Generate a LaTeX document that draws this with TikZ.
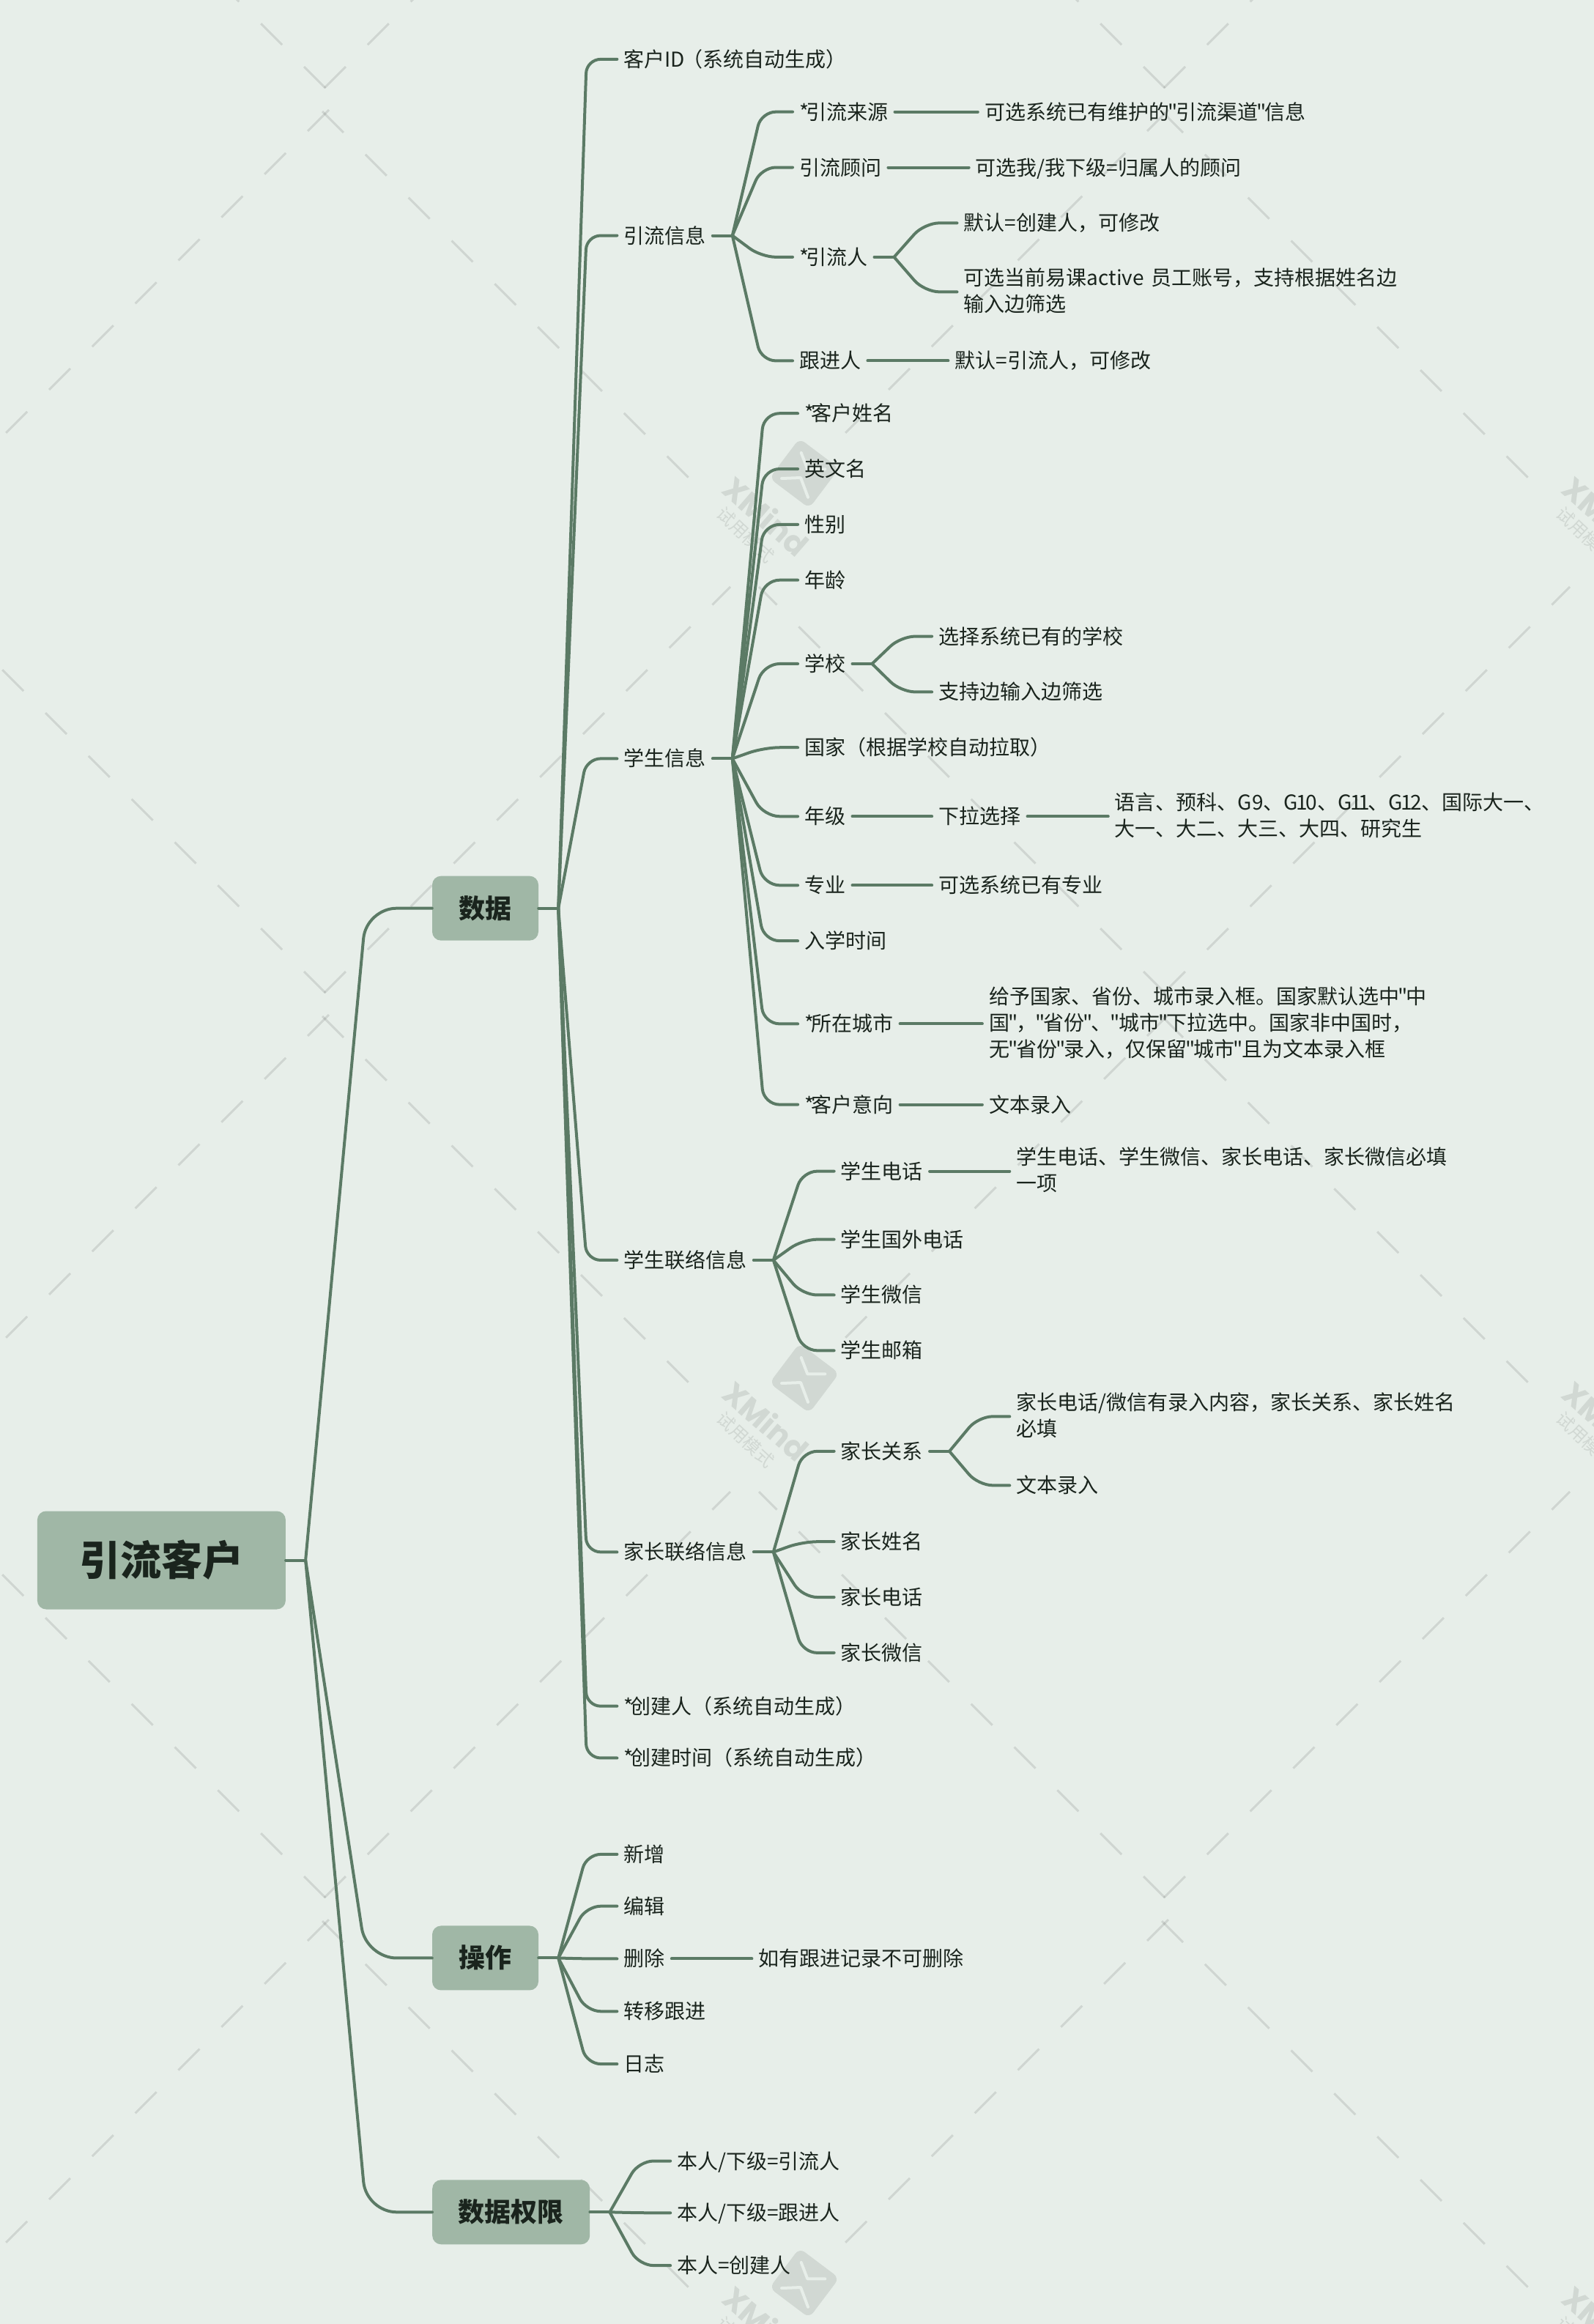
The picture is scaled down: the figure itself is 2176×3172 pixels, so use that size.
\documentclass[tikz,border=0pt]{standalone}
\usepackage{fontspec}
\newfontfamily\cjkmain{Noto Sans CJK SC}
\newfontfamily\wmfont{Poppins}
\usetikzlibrary{calc}
\definecolor{bgc}{HTML}{E7EEE9}
\definecolor{linkc}{HTML}{5B7A65}
\definecolor{boxc}{HTML}{A0B7A6}
\definecolor{textc}{HTML}{1A241D}
\definecolor{wmc}{HTML}{D1D8D3}
\newcommand{\mystrut}{\rule[-.21em]{0pt}{1.17em}}
\newcommand{\oo}{\kern-2.4pt 1\kern-2.4pt }
\newcommand{\qq}{\kern-2pt"\kern-2pt }
\newcommand{\as}{*\kern-4pt }
\tikzset{
  link/.style={draw=linkc,line width=4pt,line cap=round,line join=round},
  branch/.style={to path={let \p1=(\tikztostart), \p2=(\tikztotarget), \n1={\x2-\x1}, \n2={0.24*\n1} in
     [rounded corners=\n2] -- (\x1+0.48*\n1,\y2) -- (\tikztotarget)}},
  leaf/.style={anchor=west,xshift=-9pt,yshift=-1pt,inner xsep=9pt,inner ysep=0pt,align=left,text=textc,
     font=\cjkmain\fontsize{28}{36}\selectfont,execute at begin node=\mystrut,execute at end node=\mystrut},
  hub/.style={fill=boxc,rounded corners=12pt,inner sep=0pt,text=textc,
     execute at begin node=\mystrut,execute at end node=\mystrut},
  wmline/.style={draw=black,opacity=.1,line width=3pt,dash pattern=on 41pt off 42.2pt},
  wmtext/.style={text=wmc,inner sep=0pt},
}
\newcommand{\fan}[2]{%
  \draw[link] (#1.east) -- ++(27pt,0) coordinate (#1J);
  \foreach \c in {#2} {\draw[link] (#1J) to[branch] (\c.west);}
}
\newcommand{\one}[2]{\draw[link] (#1.east) -- (#2.west);}
\begin{document}
\begin{tikzpicture}[x=2.0223pt,y=-2.0223pt]
\useasboundingbox (0pt,0pt) rectangle (2176pt,-3172pt);
\fill[bgc] (0pt,0pt) rectangle (2176pt,-3172pt);
\begin{scope}
\clip (0pt,0pt) rectangle (2176pt,-3172pt);
\foreach \i in {0,1} {\foreach \j in {0,1,2} {
  \begin{scope}[shift={(\i*1146pt,-\j*1235pt)}]
    \draw[wmline] (440pt,-152pt) -- ++(501pt,-501pt);
    \draw[wmline] (449pt,-150pt) -- ++(-441pt,-441pt);
    \draw[wmline] (444pt,-120pt) -- ++(-554pt,554pt);
    \draw[wmline] (443pt,-120pt) -- ++(554pt,554pt);
    \begin{scope}[shift={(1098pt,-646pt)},rotate=-37]
      \fill[wmc,rounded corners=9pt] (-34pt,-34pt) rectangle (34pt,34pt);
    \end{scope}
    \begin{scope}[shift={(1098pt,-646pt)}]
      \draw[bgc,line width=4pt,line cap=round,line join=round] (-4.3pt,28pt) -- (4.3pt,5.7pt) -- (28.3pt,5.7pt);
      \draw[bgc,line width=4pt,line cap=round,line join=round] (-31pt,-7pt) -- (-5pt,-6pt) -- (5pt,-32.7pt);
    \end{scope}
    \node[wmtext,rotate=-41,font=\wmfont\bfseries\fontsize{42}{42}\selectfont] (wmx\i\j) at (1046pt,-704pt) {XMind};
    \node[wmtext,rotate=-43,font=\cjkmain\fontsize{24}{24}\selectfont] (wmy\i\j) at (1018pt,-730pt) {试用模式};
  \end{scope}
}}
\end{scope}

% hubs
\node[hub,minimum width=339pt,minimum height=134pt,font=\cjkmain\bfseries\fontsize{56}{60}\selectfont] (root) at (109,1053) {引流客户};
\node[hub,minimum width=145pt,minimum height=88pt,font=\cjkmain\bfseries\fontsize{36}{40}\selectfont] (data) at (327.6,613) {数据};
\node[hub,minimum width=145pt,minimum height=88pt,font=\cjkmain\bfseries\fontsize{36}{40}\selectfont] (ops) at (327.6,1321.5) {操作};
\node[hub,minimum width=215pt,minimum height=88pt,font=\cjkmain\bfseries\fontsize{36}{40}\selectfont] (perm) at (345,1493) {数据权限};

% data
\node[leaf] (cid) at (421,39.5) {客户ID\kern-4pt （系统自动生成）};
\node[leaf] (yl) at (421,158.5) {引流信息};
\node[leaf] (yla) at (539.5,75) {\as 引流来源};
\node[leaf] (ylaa) at (664.5,75) {可选系统已有维护的\qq 引流渠道\qq 信息};
\node[leaf] (ylb) at (539.5,112.5) {引流顾问};
\node[leaf] (ylba) at (658.5,112.5) {可选我/我下级=归属人的顾问};
\node[leaf] (ylc) at (539.5,173) {\as 引流人};
\node[leaf] (ylca) at (650.5,150) {默认=创建人，可修改};
\node[leaf] (ylcb) at (650.5,196.5) {可选当前易课active\kern4pt{} 员工账号，支持根据姓名边\\输入边筛选};
\node[leaf] (yld) at (539.5,243) {跟进人};
\node[leaf] (ylda) at (644.5,243) {默认=引流人，可修改};

\node[leaf] (st) at (421,511.5) {学生信息};
\node[leaf] (sta) at (543,278.5) {\as 客户姓名};
\node[leaf] (stb) at (543,316) {英文名};
\node[leaf] (stc) at (543,353.5) {性别};
\node[leaf] (std) at (543,391) {年龄};
\node[leaf] (ste) at (543,447.5) {学校};
\node[leaf] (stea) at (633.5,429) {选择系统已有的学校};
\node[leaf] (steb) at (633.5,466.5) {支持边输入边筛选};
\node[leaf] (stf) at (543,504) {国家（根据学校自动拉取）};
\node[leaf] (stg) at (543,550.5) {年级};
\node[leaf] (stga) at (633.5,550.5) {下拉选择};
\node[leaf] (stgb) at (752.5,550.5) {语言、预科、G9、G\oo 0、G\oo\oo、G\oo 2、国际大一、\\大一、大二、大三、大四、研究生};
\node[leaf] (sth) at (543,597) {专业};
\node[leaf] (stha) at (633.5,597) {可选系统已有专业};
\node[leaf] (sti) at (543,634.5) {入学时间};
\node[leaf] (stj) at (543,690.5) {\as 所在城市};
\node[leaf] (stja) at (667.5,690.5) {给予国家、省份、城市录入框。国家默认选中\qq 中\\国\qq ，\qq 省份\qq 、\qq 城市\qq 下拉选中。国家非中国时，\\无\qq 省份\qq 录入，仅保留\qq 城市\qq 且为文本录入框};
\node[leaf] (stk) at (543,745) {\as 客户意向};
\node[leaf] (stka) at (667.5,745) {文本录入};

\node[leaf] (sc) at (421,850) {学生联络信息};
\node[leaf] (sca) at (567.5,790) {学生电话};
\node[leaf] (scaa) at (686,790) {学生电话、学生微信、家长电话、家长微信必填\\一项};
\node[leaf] (scb) at (567.5,836) {学生国外电话};
\node[leaf] (scc) at (567.5,873.5) {学生微信};
\node[leaf] (scd) at (567.5,911) {学生邮箱};

\node[leaf] (pc) at (421,1047) {家长联络信息};
\node[leaf] (pca) at (567.5,979) {家长关系};
\node[leaf] (pcaa) at (686,955.5) {家长电话/微信有录入内容，家长关系、家长姓名\\必填};
\node[leaf] (pcab) at (686,1002) {文本录入};
\node[leaf] (pcb) at (567.5,1040) {家长姓名};
\node[leaf] (pcc) at (567.5,1077.5) {家长电话};
\node[leaf] (pcd) at (567.5,1115) {家长微信};

\node[leaf] (cr) at (421,1151) {\as 创建人（系统自动生成）};
\node[leaf] (ct) at (421,1186) {\as 创建时间（系统自动生成）};

% ops
\node[leaf] (opa) at (421,1251) {新增};
\node[leaf] (opb) at (421,1286) {编辑};
\node[leaf] (opc) at (421,1321.5) {删除};
\node[leaf] (opca) at (512,1321.5) {如有跟进记录不可删除};
\node[leaf] (opd) at (421,1357) {转移跟进};
\node[leaf] (ope) at (421,1392.5) {日志};

% perm
\node[leaf] (pma) at (457,1458) {本人/下级=引流人};
\node[leaf] (pmb) at (457,1493) {本人/下级=跟进人};
\node[leaf] (pmc) at (457,1528.5) {本人=创建人};

% connectors
\fan{root}{data,ops,perm}
\fan{data}{cid,yl,st,sc,pc,cr,ct}
\fan{yl}{yla,ylb,ylc,yld}
\one{yla}{ylaa}
\one{ylb}{ylba}
\fan{ylc}{ylca,ylcb}
\one{yld}{ylda}
\fan{st}{sta,stb,stc,std,ste,stf,stg,sth,sti,stj,stk}
\fan{ste}{stea,steb}
\one{stg}{stga}
\one{stga}{stgb}
\one{sth}{stha}
\one{stj}{stja}
\one{stk}{stka}
\fan{sc}{sca,scb,scc,scd}
\one{sca}{scaa}
\fan{pc}{pca,pcb,pcc,pcd}
\fan{pca}{pcaa,pcab}
\fan{ops}{opa,opb,opc,opd,ope}
\one{opc}{opca}
\fan{perm}{pma,pmb,pmc}
\end{tikzpicture}
\end{document}
